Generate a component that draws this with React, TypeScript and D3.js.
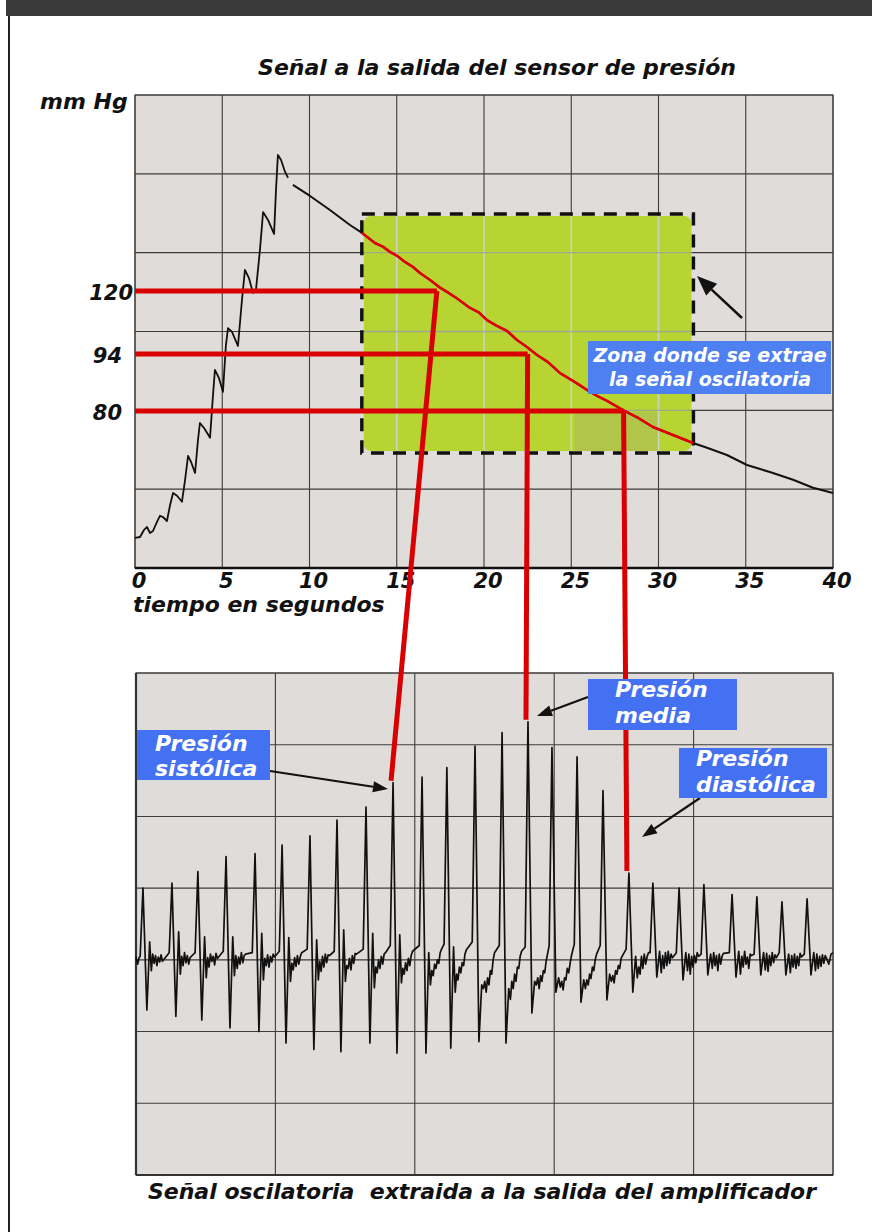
import React from 'react';
import * as d3 from 'd3';

const W = 872;
const H = 1232;
const FONT = '"DejaVu Sans", sans-serif';

// ---------- Top chart: pressure sensor output ----------
const timeTicks = [0, 5, 10, 15, 20, 25, 30, 35, 40];
const pressureLabels = [120, 94, 80];
const topGridRows = [0, 1, 2, 3, 4, 5, 6];

// inflation phase (s, mmHg)
const riseT = [0, 0.29, 0.52, 0.69, 0.86, 1.03, 1.26, 1.43, 1.6, 1.83, 2.01, 2.18, 2.41, 2.69, 2.87, 3.04, 3.21, 3.44, 3.61, 3.72, 3.95, 4.3, 4.47, 4.58, 4.81, 5.04, 5.21, 5.33, 5.56, 5.9, 6.13, 6.3, 6.53, 6.76, 6.93, 7.16, 7.34, 7.62, 7.97, 8.08, 8.19, 8.37, 8.6, 8.77];
const riseP = [48.3, 48.5, 50.3, 51.0, 49.5, 50.0, 52.3, 53.8, 53.5, 52.5, 56.5, 59.5, 58.8, 57.3, 62.8, 68.8, 67.3, 64.5, 72.8, 77.0, 75.8, 73.3, 83.9, 90.1, 88.1, 84.7, 97.7, 104.7, 103.1, 97.3, 116.3, 128.8, 125.4, 119.2, 120.4, 137.1, 152.9, 149.6, 143.8, 162.1, 176.7, 174.6, 169.6, 167.1];

// deflation phase (s, mmHg)
const decayT = [9.05, 10.03, 11.17, 12.32, 13.01, 13.75, 14.2, 14.61, 15.05, 15.47, 15.9, 16.33, 16.91, 17.48, 17.9, 18.34, 19.2, 19.7, 20.17, 20.74, 21.32, 21.89, 22.46, 23.04, 23.67, 24.36, 25.1, 25.9, 26.48, 27.05, 27.97, 28.83, 29.68, 30.83, 31.98, 32.78, 33.92, 35.07, 35.82, 36.56, 37.71, 38.85, 40.0];
const decayP = [164.2, 159.6, 153.75, 147.5, 144.2, 140.0, 138.5, 136.3, 134.5, 132.1, 130.2, 127.5, 124.6, 121.4, 119.5, 117.5, 113.0, 111.2, 108.0, 105.6, 103.5, 99.8, 96.9, 93.75, 92.0, 89.3, 87.4, 85.2, 83.7, 82.5, 80.2, 78.3, 76.0, 74.0, 72.0, 70.8, 69.0, 66.5, 65.5, 64.5, 62.8, 60.8, 59.5];

// extraction zone (s, mmHg)
const zoneT = [13.0, 32.0];
const zoneP = [152.1, 69.5];
const zonePatchT = [25.2, 30.0];
const zonePatchP = [79.7, 70.0];

// characteristic points
const markT = [17.3, 22.5, 28.0];
const markP = [120, 94, 80];
const markBeat = [9, 14, 18];

// ---------- Bottom chart: oscillation signal ----------
const botTimeTicks = [0, 5, 10, 15, 20, 25];
const botAmpTicks = [-3, -2, -1, 0, 1, 2, 3, 4];

const leadT = [0, 0.06, 0.11];
const leadA = [0.04, -0.06, 0.03];
const beatT = [0.25, 1.29, 2.22, 3.23, 4.27, 5.24, 6.24, 7.21, 8.25, 9.22, 10.26, 11.15, 12.16, 13.13, 14.06, 14.92, 15.82, 16.75, 17.68, 18.54, 19.48, 20.37, 21.38, 22.27, 23.17, 24.07];
const peakA = [1.0, 1.07, 1.23, 1.44, 1.48, 1.6, 1.73, 1.95, 2.13, 2.47, 2.55, 2.68, 2.98, 3.17, 3.32, 2.96, 2.83, 2.36, 1.21, 1.07, 1.0, 1.05, 0.91, 0.88, 0.81, 0.85];
const troughA = [-0.7, -0.79, -0.84, -0.95, -1.0, -1.16, -1.25, -1.28, -1.16, -1.3, -1.3, -1.23, -1.14, -1.16, -0.74, -0.45, -0.59, -0.56, -0.45, -0.24, -0.28, -0.21, -0.24, -0.21, -0.21, -0.21];
const bumpA = [0.25, 0.39, 0.32, 0.32, 0.37, 0.31, 0.28, 0.42, 0.37, 0.35, 0.1, 0.18, -0.35, -0.4, -0.3, -0.25, -0.28, -0.2, 0.05, 0.12, 0.1, 0.08, 0.12, 0.1, 0.08, 0.1];
const preA = [0.05, 0.1, 0.1, 0.12, 0.1, 0.12, 0.15, 0.12, 0.15, 0.2, 0.2, 0.22, 0.25, 0.2, 0.18, 0.2, 0.22, 0.2, 0.15, 0.1, 0.1, 0.08, 0.1, 0.08, 0.1, 0.08];
const rippleOffsets = [0.3, 0.35, 0.4, 0.45, 0.5, 0.55, 0.6, 0.65, 0.7];
// baseline noise after each beat (hundredths of a division)
const ripple = [
  [-15, 8, -5, 6, -8, 4, -3, 7, -2],
  [-20, 5, -8, 10, -4, 6, -6, 3, 5],
  [-25, 3, -10, 8, -2, 5, -7, 9, 2],
  [-22, 6, -12, 4, -6, 10, -4, 6, 8],
  [-28, 2, -8, 7, -10, 5, -3, 8, 4],
  [-30, -5, -14, 3, -9, 6, -6, 4, 10],
  [-28, -2, -16, 5, -10, 8, -4, 7, 6],
  [-30, -8, -12, 2, -14, 6, -5, 9, 8],
  [-39, -10, -18, 0, -12, 5, -6, 8, 10],
  [-32, -12, -20, -4, -15, 2, -8, 6, 12],
  [-35, -15, -22, -6, -12, 0, -5, 10, 15],
  [-45, -20, -28, -10, -18, -4, -8, 8, 14],
  [-40, -30, -45, -25, -35, -15, -20, 0, 10],
  [-55, -30, -40, -20, -30, -10, -12, 5, 12],
  [-35, -25, -40, -22, -30, -15, -18, -2, 8],
  [-38, -30, -42, -25, -28, -12, -18, -5, 6],
  [-40, -28, -35, -20, -26, -10, -15, 0, 8],
  [-30, -22, -32, -15, -20, -8, -12, 2, 6],
  [-25, -10, -20, 5, -12, 8, -6, 4, 10],
  [-18, 6, -12, 10, -8, 12, -5, 8, 3],
  [-15, 8, -20, 5, -10, 6, -4, 10, 5],
  [-12, 10, -8, 6, -15, 8, -6, 5, 9],
  [-20, 5, -10, 12, -6, 4, -12, 8, 6],
  [-14, 9, -16, 6, -8, 10, -4, 7, 3],
  [-18, 6, -10, 8, -12, 5, -8, 9, 4],
  [-15, 8, -12, 5, -9, 7, -5, 6, 2],
];
const tailT = [24.85, 24.93, 25.0];
const tailA = [-0.06, 0.08, 0.1];

// ---------- scales ----------
const xTop = d3.scaleLinear().domain([0, 40]).range([135, 833]);
const yTop = d3.scaleLinear().domain([40, 80, 94, 120, 180]).range([571, 411, 354, 291, 147]);
const gridTop = d3.scaleLinear().domain([0, 6]).range([95, 568]);
const xBot = d3.scaleLinear().domain([0, 25]).range([136, 833]);
const yBot = d3.scaleLinear().domain([-3, 4]).range([1175, 673]);

function Arrow({ x1, y1, x2, y2, head = 14, width = 10, sw = 2.2 }: any) {
  const a = Math.atan2(y2 - y1, x2 - x1);
  const bx = x2 - head * Math.cos(a);
  const by = y2 - head * Math.sin(a);
  const px = (-Math.sin(a) * width) / 2;
  const py = (Math.cos(a) * width) / 2;
  return (
    <g>
      <line x1={x1} y1={y1} x2={bx} y2={by} stroke="#111" strokeWidth={sw} />
      <polygon points={`${x2},${y2} ${bx + px},${by + py} ${bx - px},${by - py}`} fill="#111" />
    </g>
  );
}

export default function App() {
  const lineTop = d3
    .line<[number, number]>()
    .x((d) => xTop(d[0]))
    .y((d) => yTop(d[1]));
  const risePts: [number, number][] = riseT.map((t, i) => [t, riseP[i]]);
  const decayPts: [number, number][] = decayT.map((t, i) => [t, decayP[i]]);
  const redPts = decayPts.filter((d) => d[0] >= 12.9 && d[0] <= 32.1);

  const sig: [number, number][] = [];
  leadT.forEach((t, i) => sig.push([t, leadA[i]]));
  beatT.forEach((t, i) => {
    sig.push([t - 0.1, preA[i]]);
    sig.push([t, peakA[i]]);
    sig.push([t + 0.14, troughA[i]]);
    sig.push([t + 0.24, bumpA[i]]);
    rippleOffsets.forEach((o, j) => sig.push([t + o, ripple[i][j] / 100]));
  });
  tailT.forEach((t, i) => sig.push([t, tailA[i]]));
  sig.sort((a, b) => a[0] - b[0]);
  const lineBot = d3
    .line<[number, number]>()
    .x((d) => xBot(d[0]))
    .y((d) => yBot(d[1]));

  const zx0 = xTop(zoneT[0]);
  const zx1 = xTop(zoneT[1]);
  const zy0 = yTop(zoneP[0]);
  const zy1 = yTop(zoneP[1]);

  const txt = { fontFamily: FONT, fontWeight: 700, fontStyle: 'italic' as const };

  return (
    <svg width={W} height={H} style={{ position: 'absolute', left: 0, top: 0, background: '#fff' }}>
      <rect x={0} y={0} width={W} height={H} fill="#fff" />
      {/* header bar and frame */}
      <rect x={6} y={0} width={W - 6} height={16} fill="#3a3a3a" />
      <line x1={9} y1={16} x2={9} y2={H} stroke="#222" strokeWidth={2} />

      {/* ---------------- TOP CHART ---------------- */}
      <text x={497} y={75} textAnchor="middle" fontSize={22} {...txt} fill="#111">
        Señal a la salida del sensor de presión
      </text>
      <text x={40} y={109} fontSize={22} {...txt} fill="#111">
        mm Hg
      </text>
      <rect x={xTop(0)} y={gridTop(0)} width={xTop(40) - xTop(0)} height={gridTop(6) - gridTop(0)} fill="#e0dcd9" stroke="#555" strokeWidth={1.2} />
      {timeTicks.map((t) => (
        <line key={'vt' + t} x1={xTop(t)} x2={xTop(t)} y1={gridTop(0)} y2={gridTop(6)} stroke="#3c3c3c" strokeWidth={1.1} />
      ))}
      {topGridRows.map((r) => (
        <line key={'ht' + r} x1={xTop(0)} x2={xTop(40)} y1={gridTop(r)} y2={gridTop(r)} stroke="#3c3c3c" strokeWidth={1.1} />
      ))}
      {/* extraction zone */}
      <rect x={zx0 + 2} y={zy0 + 2} width={zx1 - zx0 - 4} height={zy1 - zy0 - 4} rx={7} fill="#b7d432" />
      <rect x={xTop(zonePatchT[0])} y={yTop(zonePatchP[0])} width={xTop(zonePatchT[1]) - xTop(zonePatchT[0])} height={yTop(zonePatchP[1]) - yTop(zonePatchP[0])} fill="#b0c54a" />
      <clipPath id="zoneClip">
        <rect x={zx0 + 2} y={zy0 + 2} width={zx1 - zx0 - 4} height={zy1 - zy0 - 4} />
      </clipPath>
      <g clipPath="url(#zoneClip)">
        {timeTicks.map((t) => (
          <line key={'vz' + t} x1={xTop(t)} x2={xTop(t)} y1={gridTop(0)} y2={gridTop(6)} stroke="#cfd3c4" strokeWidth={1.6} />
        ))}
        {topGridRows.map((r) => (
          <line key={'hz' + r} x1={xTop(0)} x2={xTop(40)} y1={gridTop(r)} y2={gridTop(r)} stroke="#9ea88a" strokeWidth={1.4} />
        ))}
      </g>
      <rect x={zx0} y={zy0} width={zx1 - zx0} height={zy1 - zy0} fill="none" stroke="#111" strokeWidth={3.5} strokeDasharray="13 9" />
      <line x1={xTop(0)} x2={xTop(40)} y1={gridTop(6)} y2={gridTop(6)} stroke="#111" strokeWidth={2.5} />

      {/* pressure curve */}
      <path d={lineTop(risePts) || ''} fill="none" stroke="#111" strokeWidth={1.8} strokeLinejoin="round" />
      <path d={lineTop(decayPts) || ''} fill="none" stroke="#111" strokeWidth={2} strokeLinejoin="round" />
      <path d={lineTop(redPts) || ''} fill="none" stroke="#e00000" strokeWidth={2.6} strokeLinejoin="round" />

      {/* axis labels */}
      {timeTicks.map((t) => (
        <text key={'tl' + t} x={xTop(t) + 4} y={588} textAnchor="middle" fontSize={21} {...txt} fill="#111">
          {t}
        </text>
      ))}
      <text x={133} y={612} fontSize={22} {...txt} fill="#111">
        tiempo en segundos
      </text>
      {pressureLabels.map((p) => (
        <text key={'pl' + p} x={String(p).length > 2 ? 133 : 122} y={yTop(p) + 9} textAnchor="end" fontSize={21} {...txt} fill="#111">
          {p}
        </text>
      ))}

      {/* ---------------- BOTTOM CHART ---------------- */}
      <rect x={xBot(0)} y={yBot(4)} width={xBot(25) - xBot(0)} height={yBot(-3) - yBot(4)} fill="#e0dcd9" stroke="#555" strokeWidth={1.2} />
      {botTimeTicks.map((t) => (
        <line key={'vb' + t} x1={xBot(t)} x2={xBot(t)} y1={yBot(4)} y2={yBot(-3)} stroke="#3c3c3c" strokeWidth={1.1} />
      ))}
      {botAmpTicks.map((a) => (
        <line key={'hb' + a} x1={xBot(0)} x2={xBot(25)} y1={yBot(a)} y2={yBot(a)} stroke="#3c3c3c" strokeWidth={1.1} />
      ))}
      <line x1={xBot(0)} x2={xBot(0)} y1={yBot(4)} y2={yBot(-3)} stroke="#333" strokeWidth={2.2} />
      <line x1={xBot(0)} x2={xBot(25)} y1={yBot(-3)} y2={yBot(-3)} stroke="#333" strokeWidth={2.2} />
      <path d={lineBot(sig) || ''} fill="none" stroke="#111" strokeWidth={1.7} strokeLinejoin="round" />

      <text x={482} y={1199} textAnchor="middle" fontSize={22} {...txt} fill="#111" style={{ whiteSpace: 'pre' }}>
        {'Señal oscilatoria  extraida a la salida del amplificador'}
      </text>

      {/* ---------------- RED CONNECTORS ---------------- */}
      {markP.map((p, i) => (
        <line key={'rh' + i} x1={xTop(0)} x2={xTop(markT[i])} y1={yTop(p)} y2={yTop(p)} stroke="#d80000" strokeWidth={5} />
      ))}
      {markP.map((p, i) => (
        <line
          key={'rv' + i}
          x1={xTop(markT[i])}
          y1={yTop(p)}
          x2={xBot(beatT[markBeat[i]]) - 2}
          y2={yBot(peakA[markBeat[i]]) - 2}
          stroke="#d80000"
          strokeWidth={5}
        />
      ))}

      {/* ---------------- ANNOTATIONS ---------------- */}
      <Arrow x1={742} y1={318} x2={697} y2={276} head={20} width={16} sw={2.5} />
      <rect x={588} y={341} width={243} height={53} fill="#4f80f2" />
      <text x={710} y={362} textAnchor="middle" fontSize={19} {...txt} fill="#fff">
        Zona donde se extrae
      </text>
      <text x={710} y={386} textAnchor="middle" fontSize={19} {...txt} fill="#fff">
        la señal oscilatoria
      </text>

      <Arrow x1={270} y1={771} x2={388} y2={789} head={15} width={11} />
      <rect x={137} y={730} width={133} height={50} fill="#4470f2" />
      <text x={155} y={751} fontSize={22} {...txt} fill="#fff">
        Presión
      </text>
      <text x={155} y={776} fontSize={22} {...txt} fill="#fff">
        sistólica
      </text>

      <Arrow x1={588} y1={697} x2={537} y2={716} head={15} width={11} />
      <rect x={588} y={679} width={149} height={51} fill="#4470f2" />
      <text x={615} y={697} fontSize={22} {...txt} fill="#fff">
        Presión
      </text>
      <text x={615} y={723} fontSize={22} {...txt} fill="#fff">
        media
      </text>

      <Arrow x1={700} y1={798} x2={642} y2={837} head={15} width={11} />
      <rect x={679} y={748} width={148} height={50} fill="#4470f2" />
      <text x={696} y={766} fontSize={22} {...txt} fill="#fff">
        Presión
      </text>
      <text x={696} y={792} fontSize={22} {...txt} fill="#fff">
        diastólica
      </text>
    </svg>
  );
}
